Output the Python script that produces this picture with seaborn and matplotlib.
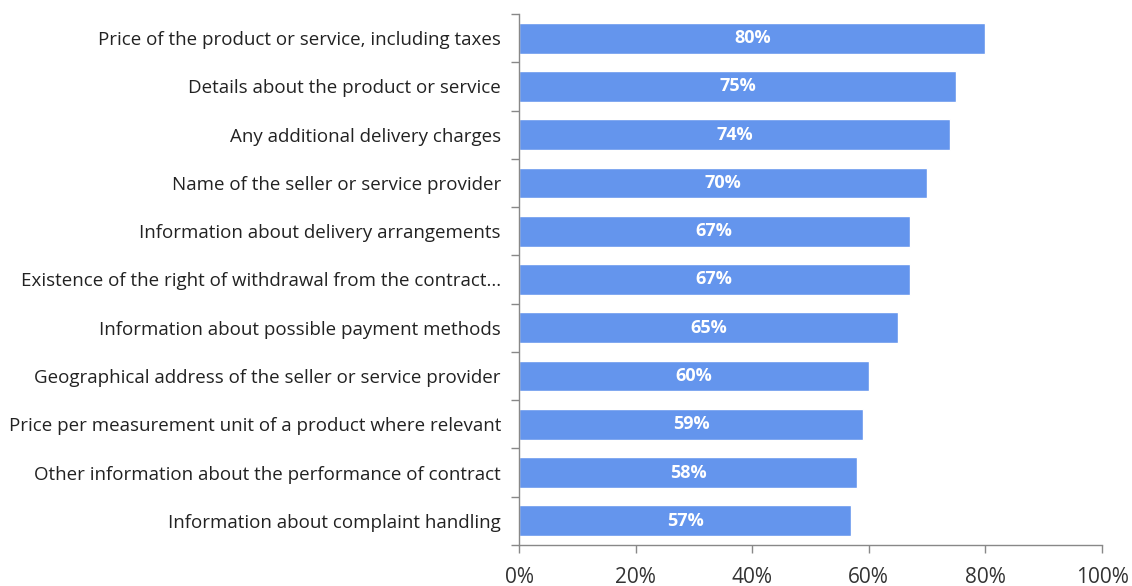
import numpy as np
import pandas as pd
import matplotlib as mpl
from matplotlib import pyplot as plt
from matplotlib.ticker import PercentFormatter, FixedLocator
import seaborn as sns

items = [
    'Price of the product or service, including taxes',
    'Details about the product or service',
    'Any additional delivery charges',
    'Name of the seller or service provider',
    'Information about delivery arrangements',
    'Existence of the right of withdrawal from the contract...',
    'Information about possible payment methods',
    'Geographical address of the seller or service provider',
    'Price per measurement unit of a product where relevant',
    'Other information about the performance of contract',
    'Information about complaint handling',
]
shares = [80, 75, 74, 70, 67, 67, 65, 60, 59, 58, 57]
x_ticks = [0, 20, 40, 60, 80, 100]

sns.set_theme(style="white")
plt.rcParams['font.family'] = ['Open Sans', 'DejaVu Sans']

df = pd.DataFrame({'Item': items, 'Share': shares})

fig = plt.figure(figsize=(11.32, 5.86), dpi=100)
ax = fig.add_axes([519/1132, 1 - 545/586, 583/1132, 531/586])

sns.barplot(ax=ax, data=df, x='Share', y='Item', orient='h',
            color='#6495ED', saturation=1, width=0.64)

for i, v in enumerate(shares):
    ax.text(v / 2, i, f'{v}%', ha='center', va='center',
            color='white', fontsize=13, fontweight='bold')

ax.set_xlim(0, 100)
ax.set_ylim(len(items) - 0.5, -0.5)
ax.set_xticks(x_ticks)
ax.xaxis.set_major_formatter(PercentFormatter(decimals=0))
ax.set_xlabel('')
ax.set_ylabel('')

for s in ['top', 'right']:
    ax.spines[s].set_visible(False)
for s in ['left', 'bottom']:
    ax.spines[s].set_color('#888888')
    ax.spines[s].set_linewidth(1)

ax.tick_params(axis='x', labelsize=15, length=6, width=1, color='#888888',
               pad=10, labelcolor='#333333', bottom=True)
ax.tick_params(axis='y', labelsize=13.5, length=0, pad=13, labelcolor='#222222')
ax.yaxis.set_minor_locator(FixedLocator(np.arange(-0.5, len(items), 1)))
ax.tick_params(axis='y', which='minor', length=6, width=1, color='#888888', left=True)

plt.savefig('out.png', dpi=100)
